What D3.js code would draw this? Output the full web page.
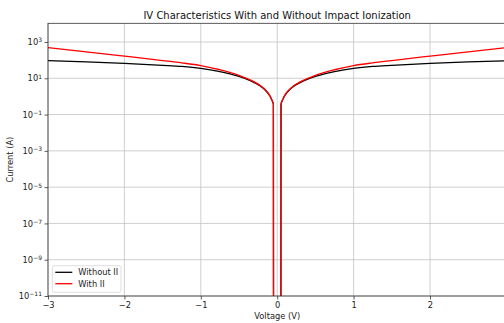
<!DOCTYPE html>
<html>
<head>
<meta charset="utf-8">
<script src="https://cdn.jsdelivr.net/npm/d3@7/dist/d3.min.js"></script>
<style>
  html, body { margin: 0; padding: 0; background: #fff; }
  svg { display: block; font-family: "DejaVu Sans", sans-serif; }
</style>
</head>
<body>
<svg id="chart" width="504" height="323"></svg>
<script>
// Bias voltage sweep (V)
const voltage = [-3.0, -2.5, -2.0, -1.5, -1.25, -1.0, -0.75, -0.5, -0.4, -0.3, -0.2, -0.15, -0.1, -0.05, 0.0,
                 0.05, 0.1, 0.15, 0.2, 0.3, 0.4, 0.5, 0.75, 1.0, 1.25, 1.5, 2.0, 2.5, 3.0];
// Current magnitude without impact ionization (A)
const currentWithoutII = [93, 80, 66, 52, 45, 35, 23, 12.6, 9.0, 5.8, 3.2, 2.07, 1.12, 0.40, 0,
                          0.40, 1.12, 2.07, 3.2, 5.8, 9.0, 12.6, 23, 35, 45, 52, 66, 80, 93];
// Current magnitude with impact ionization (A)
const currentWithII = [490, 288, 166, 95, 71, 50, 29.5, 14.5, 9.8, 6.3, 3.4, 2.2, 1.18, 0.42, 0,
                       0.42, 1.18, 2.2, 3.4, 6.3, 9.8, 14.5, 29.5, 50, 71, 95, 166, 288, 490];

const xTicks = [-3, -2, -1, 0, 1, 2];
const yTickExponents = [-11, -9, -7, -5, -3, -1, 1, 3];

const series = [
  { name: "Without II", color: "#000000", values: currentWithoutII },
  { name: "With II", color: "#ff0000", values: currentWithII }
];

const svg = d3.select("#chart");
const margin = { left: 48, top: 23.3, right: 506.4, bottom: 296 };

const x = d3.scaleLinear().domain([-3, 3]).range([margin.left, margin.right]);
const y = d3.scaleLog().domain([1e-11, Math.pow(10, 4.03)]).range([margin.bottom, margin.top]);

// clip region for plotted curves
svg.append("defs").append("clipPath").attr("id", "plot-area")
  .append("rect")
  .attr("x", margin.left).attr("y", margin.top)
  .attr("width", margin.right - margin.left).attr("height", margin.bottom - margin.top);

// grid
const grid = svg.append("g").attr("stroke", "#b0b0b0").attr("stroke-width", 0.8).attr("opacity", 0.75);
xTicks.forEach(t => {
  grid.append("line").attr("x1", x(t)).attr("x2", x(t))
    .attr("y1", margin.top).attr("y2", margin.bottom);
});
yTickExponents.forEach(e => {
  const v = Math.pow(10, e);
  grid.append("line").attr("x1", margin.left).attr("x2", margin.right)
    .attr("y1", y(v)).attr("y2", y(v));
});

// curves: the two branches are smoothed; at zero bias the current is zero,
// which lies off the log axis, so that part is drawn as straight drops below the frame
const points = vals => vals.map((v, i) => ({ v: voltage[i], i: v }));
const yOf = d => y(Math.max(d.i, 1e-300));
const smooth = d3.line().x(d => x(d.v)).y(yOf).curve(d3.curveMonotoneX);
const straight = d3.line().x(d => x(d.v)).y(yOf);

const plot = svg.append("g").attr("clip-path", "url(#plot-area)");
series.forEach(s => {
  const pts = points(s.values);
  const zero = pts.findIndex(p => p.i <= 0);
  const pieces = [
    { d: pts.slice(0, zero), gen: smooth },
    { d: pts.slice(zero - 1, zero + 2), gen: straight },
    { d: pts.slice(zero + 1), gen: smooth }
  ];
  pieces.forEach(p => {
    plot.append("path")
      .datum(p.d)
      .attr("d", p.gen)
      .attr("fill", "none")
      .attr("stroke", s.color)
      .attr("stroke-width", 1.3)
      .attr("stroke-linejoin", "round");
  });
});

// axes
const xAxis = d3.axisBottom(x).tickValues(xTicks).tickSize(3.5).tickPadding(2.5)
  .tickFormat(d => d < 0 ? "\u2212" + Math.abs(d) : String(d));
const gx = svg.append("g").attr("transform", `translate(0,${margin.bottom})`).call(xAxis);
gx.select(".domain").remove();
gx.selectAll("line").attr("stroke", "#333").attr("stroke-width", 0.8);
gx.selectAll("text").attr("fill", "#222").attr("font-size", 8.3).attr("font-family", "DejaVu Sans");

const yAxis = d3.axisLeft(y).tickValues(yTickExponents.map(e => Math.pow(10, e)))
  .tickSize(3.5).tickPadding(2.5).tickFormat("");
const gy = svg.append("g").attr("transform", `translate(${margin.left},0)`).call(yAxis);
gy.select(".domain").remove();
gy.selectAll("line").attr("stroke", "#333").attr("stroke-width", 0.8);
gy.selectAll(".tick").each(function(d) {
  const e = Math.round(Math.log10(d));
  const t = d3.select(this).append("text")
    .attr("x", -6).attr("dy", "0.32em")
    .attr("text-anchor", "end").attr("fill", "#222")
    .attr("font-size", 8.3).attr("font-family", "DejaVu Sans");
  t.append("tspan").text("10");
  t.append("tspan").attr("dy", "-0.45em").attr("font-size", 6).text(e < 0 ? "\u2212" + Math.abs(e) : String(e));
});

// spines
const spine = svg.append("g").attr("stroke", "#333").attr("stroke-width", 0.8).attr("fill", "none");
spine.append("rect")
  .attr("x", margin.left).attr("y", margin.top)
  .attr("width", margin.right - margin.left).attr("height", margin.bottom - margin.top);

// title and axis labels
svg.append("text").attr("x", (margin.left + margin.right) / 2).attr("y", 18.5)
  .attr("text-anchor", "middle").attr("font-size", 10).attr("fill", "#111")
  .text("IV Characteristics With and Without Impact Ionization");
svg.append("text").attr("x", (margin.left + margin.right) / 2).attr("y", 319)
  .attr("text-anchor", "middle").attr("font-size", 8.3).attr("fill", "#222")
  .text("Voltage (V)");
svg.append("text")
  .attr("transform", `translate(13,${(margin.top + margin.bottom) / 2}) rotate(-90)`)
  .attr("text-anchor", "middle").attr("font-size", 8.3).attr("fill", "#222")
  .text("Current (A)");

// legend
const lg = svg.append("g");
lg.append("rect").attr("x", 52.3).attr("y", 265.7).attr("width", 68.7).attr("height", 26.6)
  .attr("rx", 2).attr("fill", "#fff").attr("fill-opacity", 0.8)
  .attr("stroke", "#d5d5d5").attr("stroke-width", 0.8);
series.forEach((s, i) => {
  const yy = 272.3 + i * 11.4;
  lg.append("line").attr("x1", 55.3).attr("x2", 72.3).attr("y1", yy).attr("y2", yy)
    .attr("stroke", s.color).attr("stroke-width", 1.3);
  lg.append("text").attr("x", 78.3).attr("y", yy).attr("dy", "0.35em")
    .attr("font-size", 8.3).attr("fill", "#222").text(s.name);
});
</script>
</body>
</html>
